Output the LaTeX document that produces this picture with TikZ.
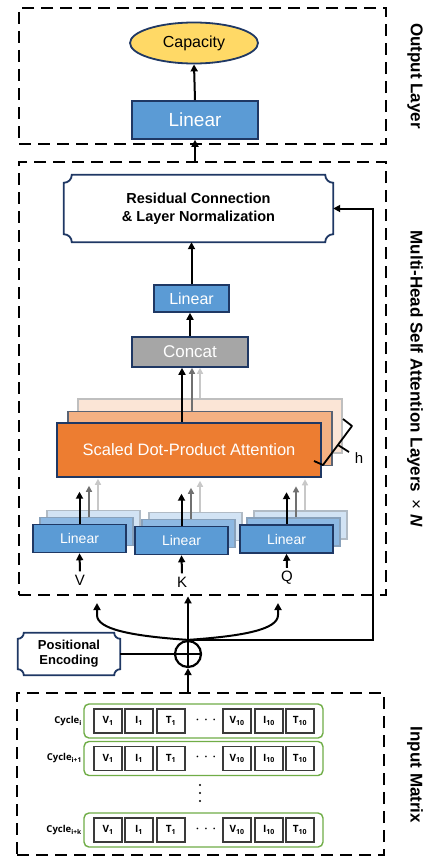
\documentclass[tikz,border=0pt]{standalone}
\usepackage{fontspec}
\setmainfont{Liberation Sans}
\newfontfamily\cellfont{Open Sans}
\usetikzlibrary{shapes.geometric,arrows.meta}

\definecolor{navy}{HTML}{1F3864}
\definecolor{linblue}{HTML}{5B9BD5}
\definecolor{linblueb}{HTML}{8DB8E2}
\definecolor{linbluec}{HTML}{D2E3F4}
\definecolor{capyellow}{HTML}{FFD966}
\definecolor{concatgray}{HTML}{A6A6A6}
\definecolor{attorange}{HTML}{ED7D31}
\definecolor{attorangeb}{HTML}{F4B183}
\definecolor{attorangec}{HTML}{FBE5D6}
\definecolor{rowgreen}{HTML}{70AD47}
\definecolor{cellgray}{HTML}{3A3A3A}
\definecolor{darkarr}{HTML}{707070}
\definecolor{lightarr}{HTML}{C8C8C8}

% box with inward cut round corners, drawn round a named node
\newcommand{\cavebox}[2]{%
  \draw[navy, line width=1.8pt]
    ([shift={(#2,0)}]#1.north west) -- ([shift={(-#2,0)}]#1.north east)
    .. controls ([shift={(-#2,0.55*#2)}]#1.north east) and ([shift={(-0.55*#2,#2)}]#1.north east) .. ([shift={(0,#2)}]#1.north east)
    -- ([shift={(0,-#2)}]#1.south east)
    .. controls ([shift={(-0.55*#2,-#2)}]#1.south east) and ([shift={(-#2,-0.55*#2)}]#1.south east) .. ([shift={(-#2,0)}]#1.south east)
    -- ([shift={(#2,0)}]#1.south west)
    .. controls ([shift={(#2,-0.55*#2)}]#1.south west) and ([shift={(0.55*#2,-#2)}]#1.south west) .. ([shift={(0,-#2)}]#1.south west)
    -- ([shift={(0,#2)}]#1.north west)
    .. controls ([shift={(0.55*#2,#2)}]#1.north west) and ([shift={(#2,0.55*#2)}]#1.north west) .. cycle;}

\tikzset{
  layerbox/.style={draw, dash pattern=on 12pt off 7pt, line width=2.8pt, minimum width=367pt, inner sep=0pt},
  linbox/.style={rectangle, draw=navy, fill=linblue, line width=1.6pt, text=white, inner sep=0pt},
  backlin/.style={rectangle, draw=#1!60!gray, fill=#1, line width=1.4pt, minimum width=93pt, minimum height=28pt},
  attbox/.style={rectangle, line width=1.6pt, minimum width=264pt, minimum height=54pt, inner sep=0pt},
  arr/.style={-{Triangle[length=7pt,width=7pt]}, line width=2pt},
  headarr/.style={-{Triangle[length=6pt,width=6pt]}, line width=1.8pt},
  sidelabel/.style={rotate=-90, font=\bfseries\fontsize{17}{20}\selectfont},
  rowbox/.style={draw=rowgreen, rounded corners=5pt, line width=1.4pt, minimum width=239pt, minimum height=34pt},
  cell/.style={draw=cellgray, line width=1.4pt, fill=white, minimum width=28pt, minimum height=24pt, inner sep=0pt,
    font=\cellfont\bfseries\fontsize{10}{12}\selectfont},
  cyclelbl/.style={anchor=east, inner sep=0pt, font=\cellfont\bfseries\fontsize{9.5}{11}\selectfont},
}

\begin{document}
\begin{tikzpicture}[x=1pt, y=-1pt]
\fill[white] (0,0) rectangle (426,859);
\useasboundingbox (0,0) rectangle (426,859);

% output layer
\node[layerbox, minimum height=136pt] (outlayer) at (202.5,76) {};
\node[ellipse, draw=navy, fill=capyellow, line width=1.8pt, minimum width=128pt, minimum height=41pt, inner sep=0pt,
  font=\fontsize{16}{18}\selectfont] (cap) at (194,43) {Capacity};
\node[linbox, minimum width=126pt, minimum height=38pt, font=\fontsize{19}{22}\selectfont] (linout) at (195,120) {Linear};
\draw[arr] (linout.north) -- (cap.south);
\node[sidelabel] (outlbl) at (415,76) {Output Layer};

% multi-head self attention
\node[layerbox, minimum height=433pt] (mhsa) at (202.5,378.5) {};
\draw[arr] (mhsa.north -| linout) -- (linout.south);
\node[sidelabel] (mhsalbl) at (415,379) {Multi-Head Self Attention Layers \,{\mdseries ×} \textit{N}};

\node[minimum width=269pt, minimum height=67pt, inner sep=0pt, align=center,
  font=\bfseries\fontsize{14.5}{18}\selectfont] (res) at (198.5,208.5) {Residual Connection\\\& Layer Normalization};
\cavebox{res}{8}
\node[linbox, minimum width=75pt, minimum height=27pt, font=\fontsize{16}{18}\selectfont] (linmid) at (191.5,298.5) {Linear};
\draw[arr] (linmid.north) -- (res.south -| linmid);
\node[rectangle, draw=navy, fill=concatgray, line width=1.6pt, text=white, minimum width=116pt, minimum height=30pt,
  inner sep=0pt, font=\fontsize{17}{20}\selectfont] (concat) at (190,352) {Concat};
\draw[arr] (concat.north) -- (linmid.south -| concat);

\node[attbox, draw=gray!50, fill=attorangec] (att3) at (210,426) {};
\node[attbox, draw=navy!40!gray, fill=attorangeb] (att2) at (200,438.5) {};
\node[attbox, draw=navy, fill=attorange, text=white, font=\fontsize{16.5}{19}\selectfont] (att1) at (189,450) {Scaled Dot-Product Attention};
\draw[headarr, lightarr] ([xshift=-10pt]att3.north) -- ([xshift=-10pt]att3.north |- concat.south);
\draw[headarr, darkarr] ([xshift=-8pt]att2.north) -- ([xshift=-8pt]att2.north |- concat.south);
\draw[arr] ([xshift=-7pt]att1.north) -- ([xshift=-7pt]att1.north |- concat.south);
% h heads
\draw[line width=1.8pt, line join=round] (314,461) -- (323,465) -- (352,426) -- (343,419) (338,445) -- (349,452);
\node[font=\fontsize{15}{18}\selectfont] (hlbl) at (359,458) {h};

% linear projections of V, K, Q
\node[backlin=linbluec] (linv3) at (93.5,524.5) {};
\node[backlin=linblueb] (linv2) at (86.5,531.5) {};
\node[linbox, minimum width=93pt, minimum height=28pt, font=\fontsize{14}{16}\selectfont] (linv) at (79.5,538.5) {Linear};
\node[backlin=linbluec] (link3) at (195.5,526.5) {};
\node[backlin=linblueb] (link2) at (188.5,533.5) {};
\node[linbox, minimum width=93pt, minimum height=28pt, font=\fontsize{14}{16}\selectfont] (link) at (181.5,540.5) {Linear};
\node[backlin=linbluec] (linq3) at (300.5,525) {};
\node[backlin=linblueb] (linq2) at (293.5,532) {};
\node[linbox, minimum width=93pt, minimum height=28pt, font=\fontsize{14}{16}\selectfont] (linq) at (286.5,539) {Linear};
\foreach \s in {v,k,q} {
  \draw[headarr, lightarr] ([xshift=4.5pt]lin\s3.north) -- ++(0,-31);
  \draw[headarr, darkarr] ([xshift=2.5pt]lin\s2.north) -- ++(0,-31);
  \draw[arr] (lin\s.north) -- ++(0,-32);
}
\node[font=\fontsize{15}{18}\selectfont] (vlbl) at (80,580) {V};
\node[font=\fontsize{15}{18}\selectfont] (klbl) at (182,582) {K};
\node[font=\fontsize{15}{18}\selectfont] (qlbl) at (287,578) {Q};
\draw[arr] (vlbl.north) -- (linv.south);
\draw[arr] (klbl.north) -- (link.south);
\draw[arr] (qlbl.north) -- (linq.south);

% positional encoding and sum
\node[circle, draw, line width=2.2pt, minimum size=26pt, inner sep=0pt] (plus) at (188,654) {};
\draw[line width=2.2pt] (plus.north) -- (plus.south) (plus.west) -- (plus.east);
\node[minimum width=102pt, minimum height=42pt, inner sep=0pt, align=center,
  font=\bfseries\fontsize{13}{15}\selectfont] (posenc) at (69,654) {Positional\\Encoding};
\cavebox{posenc}{6}
\draw[line width=2pt] (posenc.east) -- (plus.west);
\coordinate (vtip) at (97,603);
\coordinate (qtip) at (278,603);
\draw[arr] (plus.north) -- (mhsa.south -| plus);
\draw[arr] (plus.north) .. controls +(-58,-4) and +(0,14) .. ([shift={(0,12)}]vtip) -- (vtip);
\draw[arr] (plus.north) .. controls +(58,-4) and +(0,14) .. ([shift={(0,12)}]qtip) -- (qtip);
\draw[arr] (plus.north) -- ++(185,0) |- (res.east);

% input matrix
\node[layerbox, minimum height=162pt] (inmat) at (200.5,774) {};
\draw[arr] (inmat.north -| plus) -- (plus.south);
\node[sidelabel] (inlbl) at (415,775) {Input Matrix};
\foreach \r/\y in {1/721, 2/758.5, 3/830} {
  \node[rowbox] (row\r) at (203.5,\y) {};
  \foreach \c/\x/\t in {1/108/{V\textsubscript{1}}, 2/139/{I\textsubscript{1}}, 3/171/{T\textsubscript{1}},
                        4/237/{V\textsubscript{10}}, 5/269/{I\textsubscript{10}}, 6/300/{T\textsubscript{10}}}
    \node[cell] (cell\r\c) at (\x,\y) {\t};
  \node[font=\cellfont\bfseries\fontsize{10}{12}\selectfont] (hdots\r) at (206,\y) {·\hspace{5.5pt}·\hspace{5.5pt}·};
}
\node[cyclelbl] (cyc1) at (82,721) {Cycle\textsubscript{i}};
\node[cyclelbl] (cyc2) at (82,758.5) {Cycle\textsubscript{i+1}};
\node[cyclelbl] (cyc3) at (82,830) {Cycle\textsubscript{i+k}};
% vertical ellipsis between rows
\foreach \d in {785,793,801}
  \fill (200,\d) circle (1.1pt);
\end{tikzpicture}
\end{document}
